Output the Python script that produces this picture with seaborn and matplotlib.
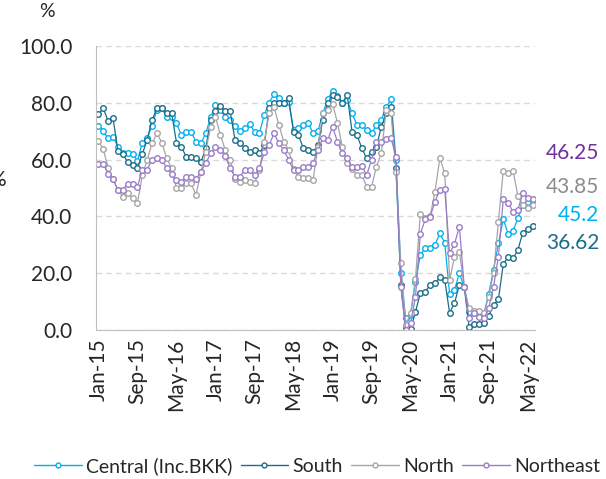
import numpy as np
import pandas as pd
import seaborn as sns
import matplotlib.pyplot as plt
from matplotlib.lines import Line2D

# monthly occupancy rate (%), Jan-15 .. Jun-22
central = [72, 70, 67.5, 68, 64.5, 62.5, 62.5, 62, 59.5, 66, 67.5, 72,
           77.5, 78, 75, 75, 72.8, 68.7, 69.8, 69.8, 66.3, 65.7, 69.2, 74.9,
           79.2, 77.5, 75.1, 73.9, 72, 70, 71, 72.5, 69.8, 69.4, 75.7, 80,
           83.1, 81.6, 79.8, 80.4, 70.4, 71, 72.2, 73, 69.2, 70, 76.3, 81.2,
           84.3, 82.4, 80, 81, 76.3, 72.2, 72.2, 70.4, 69.2, 72.2, 73.9, 78.6,
           81.2, 59.9, 20, 4.1, 5.3, 17, 26.4, 28.8, 28.8, 30, 34, 30.7,
           12.7, 14.1, 20, 15, 6.4, 5.9, 5.9, 5.3, 12.7, 21.1, 30.5, 39,
           33.8, 35, 39.3, 44, 45.2, 45.2]
south = [76, 78, 73.5, 74.5, 63, 62, 59, 58, 57, 62, 67, 74,
         78, 78, 76.5, 76.5, 66, 64.5, 61, 61, 60.5, 59, 64, 74,
         77, 79, 77, 77, 67, 66, 64, 62.8, 63.4, 62.2, 65.1, 78,
         79.8, 80, 80, 81.6, 69.8, 68.7, 64, 63.4, 62.8, 65, 74, 80,
         82.7, 82.2, 80, 82.7, 69.8, 68.7, 64, 60.4, 62.8, 64.5, 71.6, 76.3,
         78.6, 57, 16, 0.6, 0.2, 6.4, 13, 13.5, 15.8, 16.4, 18.5, 17.6,
         6.1, 9.4, 16, 15, 1.2, 2.1, 2.1, 2.5, 4.9, 8.9, 10.8, 23.2,
         25.8, 25.2, 28.2, 34.3, 35.5, 36.62]
north = [66.5, 63.6, 57, 53, 49.3, 46.9, 48.3, 46.4, 44.6, 54.6, 59.9, 65.7,
         69.2, 66, 60.4, 57, 50, 50, 51.6, 51.6, 47.5, 55.5, 62.8, 71.6,
         75, 68.7, 63.4, 60, 53, 52.2, 52.8, 52.2, 51.6, 56.3, 66.3, 76.3,
         78.6, 72.2, 66.3, 63.4, 56.6, 53.8, 53.4, 53.4, 52.8, 64.5, 76.3, 77.5,
         79.6, 73, 64.5, 58.9, 56.6, 54.6, 54.6, 50.5, 50.5, 57.5, 62.2, 77.5,
         76.3, 55.8, 23.7, 1.8, 5.9, 18, 41, 39.3, 40, 48.7, 60.5, 55.2,
         17.6, 25.8, 27.6, 15, 7.6, 6.8, 6.6, 5.9, 11.7, 20, 38.1, 56.1,
         55.4, 56.1, 47.2, 44, 42.8, 43.85]
northeast = [58.5, 58.5, 54.9, 53, 49.3, 49.3, 51.4, 51.4, 50.5, 56.3, 56.5, 59.9,
             60.4, 60, 57, 55, 52.8, 52.2, 53.8, 53.8, 53, 55.8, 58.7, 62.2,
             64.5, 63.4, 61.3, 57, 54, 54, 56.3, 56.3, 54.6, 56.9, 62.6, 65.1,
             69.2, 65.7, 63.4, 59.9, 56.3, 56.3, 57.4, 57.4, 58.7, 63.4, 67.5, 66.9,
             71.6, 66.3, 62.2, 60.4, 57.4, 57.5, 57.6, 54.6, 59.9, 66.3, 66.3, 67.1,
             67.5, 61, 15.2, 0, 2.3, 11.7, 33.8, 39, 39.9, 45.2, 49.3, 49.5,
             27, 30.3, 36.4, 15.2, 4.1, 5.9, 4.7, 4.1, 7.6, 15.2, 25.8, 46,
             44.6, 41.7, 42.3, 48.3, 46.4, 46.25]

months = pd.date_range('2015-01-01', periods=len(central), freq='MS').strftime('%b-%y')
names = ['Central (Inc.BKK)', 'South', 'North', 'Northeast']
line_colors = ['#00B0F0', '#1A6E8A', '#A6A6A6', '#9B7CC8']
label_colors = ['#00B0F0', '#1A6E8A', '#8C8C8C', '#7030A0']

df = pd.DataFrame({'idx': np.arange(len(months)), 'Central (Inc.BKK)': central,
                   'South': south, 'North': north, 'Northeast': northeast})
long = df.melt(id_vars='idx', var_name='region', value_name='rate')

sns.set_style('white')
plt.rcParams['font.family'] = ['Lato', 'DejaVu Sans']

fig = plt.figure(figsize=(6.06, 4.79), dpi=100)
ax = fig.add_axes([0.1584, 0.311, 0.7244, 0.593])

for name, c in zip(names, line_colors):
    sns.lineplot(data=long[long.region == name], x='idx', y='rate', ax=ax,
                 color=c, lw=0.9, marker='o', markersize=4,
                 markerfacecolor='white', markeredgecolor=c, markeredgewidth=1.0)

ax.set_xlim(-0.5, len(months) - 0.5)
ax.set_ylim(0, 100)
ax.set_yticks(np.arange(0, 101, 20))
ax.set_yticklabels([f'{v:.1f}' for v in range(0, 101, 20)], fontsize=15)
ax.yaxis.grid(True, ls=(0, (4, 3)), color='#D9D9D9', lw=1)
ax.set_axisbelow(True)

pos = np.arange(0, len(months), 8)
ax.set_xticks(pos)
ax.set_xticklabels(months[pos], rotation=90, fontsize=15)
ax.set_xticks(pos - 0.5, minor=True)
ax.tick_params(axis='x', which='major', length=0, pad=6)
ax.tick_params(axis='x', which='minor', length=4, color='#BFBFBF', width=1)
ax.tick_params(axis='y', length=5, color='#D9D9D9', width=1, pad=12)
ax.set_xlabel('')
ax.set_ylabel('')
sns.despine(ax=ax, top=True, right=True)
for s in ['left', 'bottom']:
    ax.spines[s].set_color('#BFBFBF')

fig.text(0.078, 0.975, '%', fontsize=14, ha='center', va='center')
fig.text(0.009, 0.624, '%', fontsize=15, ha='right', va='center')

# end-value labels
last = [central[-1], south[-1], north[-1], northeast[-1]]
ys = [215, 243, 187, 153]
for v, col, yp in zip(last, label_colors, ys):
    fig.text(0.989, 1 - yp / 479, f'{v}', color=col, fontsize=15,
             ha='right', va='center')

handles = [Line2D([0], [0], color=c, lw=1.0, marker='o', markersize=3.5,
                  markerfacecolor='white', markeredgecolor=c) for c in line_colors]
fig.legend(handles, names, loc='center', bbox_to_anchor=(0.523, 0.027), ncol=4,
           frameon=False, fontsize=14, handlelength=2.45, handletextpad=0.2,
           columnspacing=0.45, borderaxespad=0, borderpad=0)

fig.savefig('out.png', dpi=100)
